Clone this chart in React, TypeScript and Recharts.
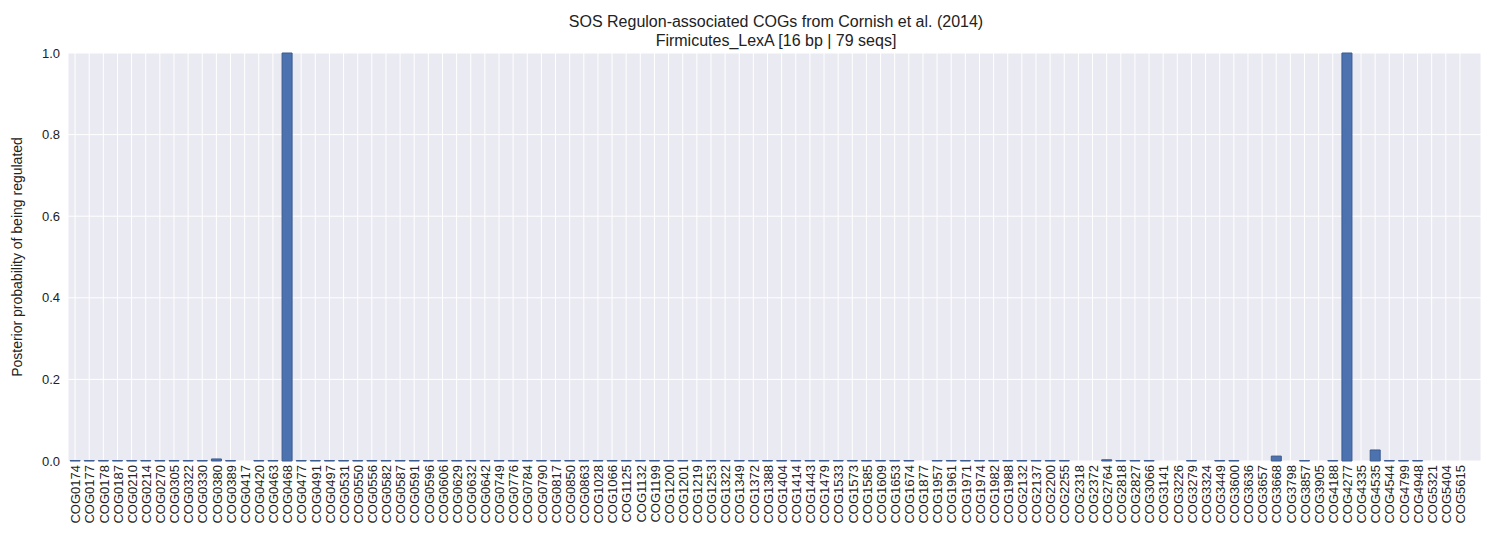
import { BarChart, Bar, XAxis, YAxis, CartesianGrid } from 'recharts';

const cogs = [
  'COG0174', 'COG0177', 'COG0178', 'COG0187', 'COG0210', 'COG0214', 'COG0270', 'COG0305', 'COG0322', 'COG0330',
  'COG0380', 'COG0389', 'COG0417', 'COG0420', 'COG0463', 'COG0468', 'COG0477', 'COG0491', 'COG0497', 'COG0531',
  'COG0550', 'COG0556', 'COG0582', 'COG0587', 'COG0591', 'COG0596', 'COG0606', 'COG0629', 'COG0632', 'COG0642',
  'COG0749', 'COG0776', 'COG0784', 'COG0790', 'COG0817', 'COG0850', 'COG0863', 'COG1028', 'COG1066', 'COG1125',
  'COG1132', 'COG1199', 'COG1200', 'COG1201', 'COG1219', 'COG1253', 'COG1322', 'COG1349', 'COG1372', 'COG1388',
  'COG1404', 'COG1414', 'COG1443', 'COG1479', 'COG1533', 'COG1573', 'COG1585', 'COG1609', 'COG1653', 'COG1674',
  'COG1877', 'COG1957', 'COG1961', 'COG1971', 'COG1974', 'COG1982', 'COG1988', 'COG2132', 'COG2137', 'COG2200',
  'COG2255', 'COG2318', 'COG2372', 'COG2764', 'COG2818', 'COG2827', 'COG3066', 'COG3141', 'COG3226', 'COG3279',
  'COG3324', 'COG3449', 'COG3600', 'COG3636', 'COG3657', 'COG3668', 'COG3798', 'COG3857', 'COG3905', 'COG4188',
  'COG4277', 'COG4335', 'COG4535', 'COG4544', 'COG4799', 'COG4948', 'COG5321', 'COG5404', 'COG5615',
];

// posterior probability per COG (tiny values are the hairline bars)
const posterior = [
  0.001, 0.001, 0.001, 0.001, 0.001, 0.001, 0.001, 0.001, 0.001, 0.001,
  0.005, 0.001, 0, 0.001, 0.001, 1.0, 0.001, 0.001, 0.001, 0.001,
  0.001, 0.001, 0.001, 0.001, 0.001, 0.001, 0.001, 0.001, 0.001, 0.001,
  0.001, 0.001, 0.001, 0.001, 0.001, 0.001, 0.001, 0.001, 0.001, 0.001,
  0.001, 0.001, 0.001, 0.001, 0.001, 0.001, 0.001, 0.001, 0.001, 0.001,
  0.001, 0.001, 0.001, 0.001, 0.001, 0.001, 0.001, 0.001, 0.001, 0.001,
  0, 0.001, 0.001, 0.001, 0.001, 0.001, 0.001, 0.001, 0.001, 0.001,
  0.001, 0, 0, 0.003, 0.001, 0.001, 0.001, 0, 0, 0.001,
  0, 0.001, 0.001, 0, 0, 0.012, 0, 0.001, 0, 0.001,
  1.0, 0, 0.027, 0.001, 0.001, 0.001, 0, 0, 0,
];

const yTicks = [0, 0.2, 0.4, 0.6, 0.8, 1.0];

const data = cogs.map((cog, i) => ({ cog, p: posterior[i] }));

const font = '"Liberation Sans", Arial, sans-serif';

export default function App() {
  return (
    <div style={{ position: 'absolute', top: 0, left: 0, width: 1500, height: 550, background: '#fff', fontFamily: font }}>
      <div style={{ position: 'absolute', top: 12, left: 0, width: 1552, textAlign: 'center', fontSize: 16, lineHeight: '19px', color: '#222' }}>
        SOS Regulon-associated COGs from Cornish et al. (2014)
        <br />
        Firmicutes_LexA [16 bp | 79 seqs]
      </div>
      <BarChart
        width={1500}
        height={550}
        data={data}
        margin={{ top: 53, right: 19, left: 0, bottom: 0 }}
        barCategoryGap="15%"
      >
        <CartesianGrid stroke="#fff" strokeWidth={1} fill="#EAEAF2" fillOpacity={1} />
        <XAxis
          dataKey="cog"
          interval={0}
          height={89}
          padding={{ left: 0, right: 14 }}
          axisLine={false}
          tickLine={false}
          tick={{ fontSize: 13, fill: '#222', fontFamily: font }}
          angle={-90}
          textAnchor="end"
          dx={-4}
          dy={-4}
        />
        <YAxis
          width={68}
          domain={[0, 1]}
          ticks={yTicks}
          tickFormatter={(v: number) => v.toFixed(1)}
          axisLine={false}
          tickLine={false}
          tick={{ fontSize: 13, fill: '#222', fontFamily: font }}
          label={{
            value: 'Posterior probability of being regulated',
            angle: -90,
            position: 'insideLeft',
            dx: 12,
            style: { textAnchor: 'middle', fill: '#222', fontSize: 14, fontFamily: font },
          }}
        />
        <Bar dataKey="p" fill="#4C72B0" stroke="#3a5a8f" strokeWidth={1} isAnimationActive={false} />
      </BarChart>
    </div>
  );
}
